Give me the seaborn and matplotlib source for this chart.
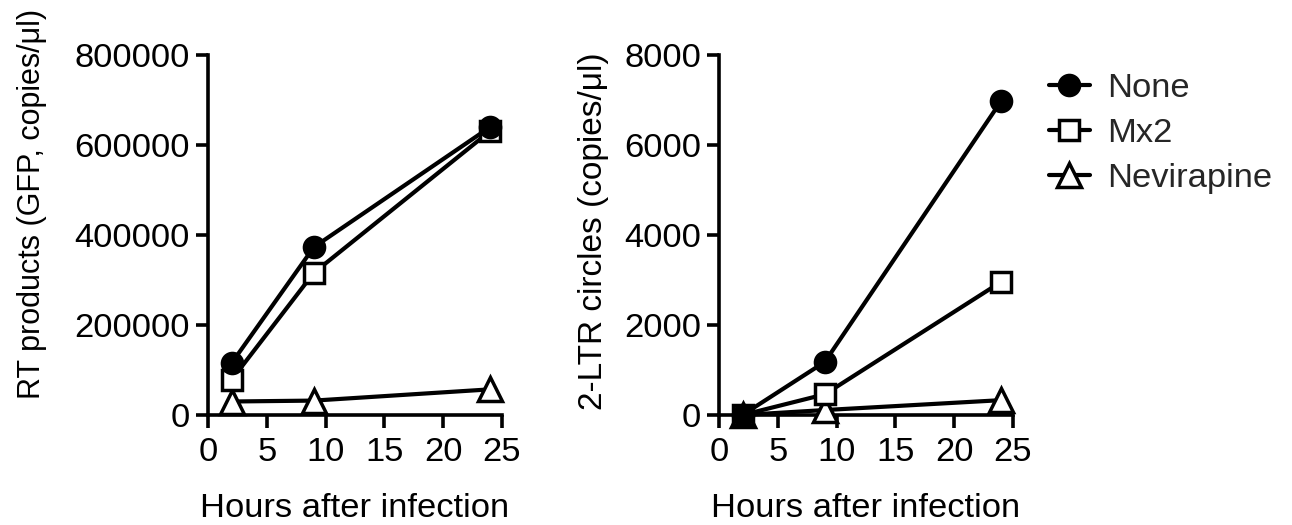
import matplotlib
matplotlib.use("Agg")
import matplotlib.pyplot as plt
import seaborn as sns

hours = [2, 9, 24]
series_names = ["None", "Mx2", "Nevirapine"]
rt_none = [115000, 373000, 640000]
rt_mx2 = [78000, 316000, 631000]
rt_nev = [30000, 32000, 57000]
ltr_none = [0, 1180, 6980]
ltr_mx2 = [0, 460, 2960]
ltr_nev = [0, 110, 330]

x_ticks = [0, 5, 10, 15, 20, 25]
rt_ticks = [0, 200000, 400000, 600000, 800000]
ltr_ticks = [0, 2000, 4000, 6000, 8000]

sns.set_theme(style="ticks")
plt.rcParams["font.family"] = ["Liberation Sans", "DejaVu Sans"]
FS = 24.8

styles = {
    "None": dict(marker="o", markersize=14.5, markerfacecolor="black"),
    "Mx2": dict(marker="s", markersize=15, markerfacecolor="white"),
    "Nevirapine": dict(marker="^", markersize=17.5, markerfacecolor="white"),
}

fig = plt.figure(figsize=(12.92, 5.25), dpi=100)
ax1 = fig.add_axes([208 / 1292, 110 / 525, 294 / 1292, 360 / 525])
ax2 = fig.add_axes([719 / 1292, 110 / 525, 294 / 1292, 360 / 525])

def draw(ax, data):
    for name in ["Nevirapine", "Mx2", "None"]:
        sns.lineplot(x=hours, y=data[name], ax=ax, color="black", linewidth=3.0,
                     markeredgecolor="black", markeredgewidth=2.5, clip_on=False,
                     label=name, legend=False, zorder=3, **styles[name])

draw(ax1, {"None": rt_none, "Mx2": rt_mx2, "Nevirapine": rt_nev})
draw(ax2, {"None": ltr_none, "Mx2": ltr_mx2, "Nevirapine": ltr_nev})

for ax, yt in [(ax1, rt_ticks), (ax2, ltr_ticks)]:
    ax.set_xlim(0, 25)
    ax.set_ylim(0, yt[-1])
    ax.set_xticks(x_ticks)
    ax.set_yticks(yt)
    ax.set_yticklabels([str(v) for v in yt])
    ax.set_xticklabels([str(v) for v in x_ticks])
    for s in ["top", "right"]:
        ax.spines[s].set_visible(False)
    for s in ["left", "bottom"]:
        ax.spines[s].set_linewidth(2.6)
        ax.spines[s].set_color("black")
    ax.tick_params(axis="both", labelsize=FS, length=9, width=2.6, color="black",
                   labelcolor="black")
    ax.tick_params(axis="x", pad=7)
    ax.tick_params(axis="y", pad=4)
    ax.set_xlabel("Hours after infection", fontsize=FS, color="black", labelpad=18)
    ax.set_facecolor("white")

ax1.set_ylabel("RT products (GFP, copies/μl)", fontsize=22, color="black", labelpad=20)
ax1.yaxis.label.set_y(0.585)
ax2.set_ylabel("2-LTR circles (copies/μl)", fontsize=24, color="black", labelpad=11)
ax2.yaxis.label.set_y(0.51)

handles, labels = ax1.get_legend_handles_labels()
order = [labels.index(n) for n in series_names]
fig.legend([handles[i] for i in order], [labels[i] for i in order],
           loc="upper left", bbox_to_anchor=(1035 / 1292, 1 - 59 / 525),
           frameon=False, fontsize=FS, handlelength=1.2, handletextpad=0.5,
           labelspacing=0.4, borderaxespad=0)

fig.savefig("out.png", dpi=100, facecolor="white")
